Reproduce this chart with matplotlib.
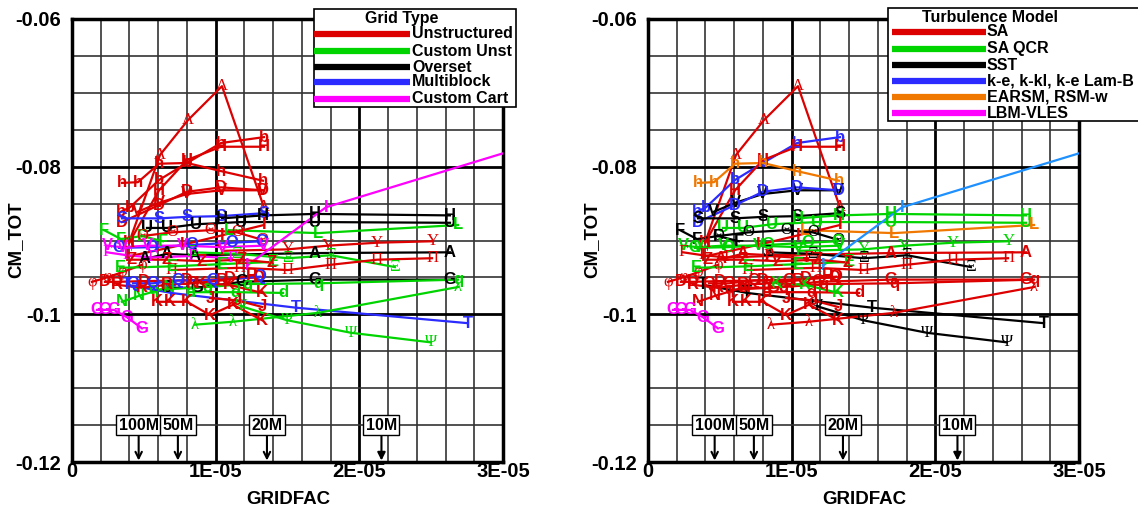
import matplotlib.pyplot as plt
from matplotlib.lines import Line2D
from matplotlib.patches import Rectangle
from matplotlib.ticker import MultipleLocator

plt.rcParams['font.family'] = ['Liberation Sans', 'DejaVu Sans']

# one entry per submission: symbol, grid type, turbulence model,
# GRIDFAC (in units of 1e-6) and CM_TOT for each grid level
symbols = ['Λ', 'b', 'H', 'h', 'V', 'D', 'S', 'U', 'H', 'L',
           'F', 'Υ', 'A', 'Ξ', 'Π', 'G', 'q', 'd', 'T', 'Ψ',
           'λ', 'K', 'N', 'G', 'D', 'φ', 'Q', 'I', 'I', 'Θ',
           'O', 'V', 'Γ', 'E', 'K', 'J', 'R', 'Z']

grid_type = ['Unstructured', 'Unstructured', 'Unstructured', 'Unstructured', 'Unstructured',
             'Unstructured', 'Multiblock', 'Overset', 'Overset', 'Custom Unst',
             'Custom Unst', 'Unstructured', 'Overset', 'Custom Unst', 'Unstructured',
             'Overset', 'Custom Unst', 'Custom Unst', 'Multiblock', 'Custom Unst',
             'Custom Unst', 'Unstructured', 'Custom Unst', 'Custom Cart', 'Unstructured',
             'Unstructured', 'Multiblock', 'Custom Cart', 'Unstructured', 'Unstructured',
             'Multiblock', 'Custom Cart', 'Custom Cart', 'Custom Unst', 'Unstructured',
             'Unstructured', 'Unstructured', 'Unstructured']

turb_model = ['SA', 'k-e', 'SA', 'EARSM', 'SST', 'k-e', 'SST', 'SA QCR', 'SA QCR', 'EARSM',
              'SST', 'SA QCR', 'SA', 'SST', 'SA', 'SA', 'SA', 'SA', 'SST', 'SST',
              'SA', 'SA', 'SA', 'LBM-VLES', 'SA', 'SA', 'SA', 'LES', 'SA', 'SST',
              'SA QCR', 'SA QCR', 'SA', 'SA QCR', 'SA QCR', 'SA', 'SA', 'SA']

gridfac = [
    [3.97, 6.13, 8.07, 10.44, 13.36],
    [3.41, 4.04, 6.06, 8.00, 10.37, 13.36],
    [3.97, 6.06, 8.00, 10.37, 13.36],
    [3.48, 4.59, 6.06, 8.00, 10.37, 13.29],
    [4.59, 6.06, 8.00, 10.37, 13.29],
    [3.48, 6.06, 8.00, 10.37, 13.29],
    [3.48, 6.06, 8.00, 10.37, 13.36],
    [5.22, 6.61, 8.63, 11.76, 16.91, 26.31],
    [10.44, 13.29, 16.91, 26.31],
    [10.93, 17.12, 26.87],
    [2.23, 3.41, 4.87, 6.33],
    [10.44, 15.03, 17.82, 21.23, 25.13],
    [5.08, 6.61, 8.56, 16.91, 26.31],
    [8.35, 11.48, 15.03, 18.03, 22.48],
    [6.96, 11.69, 15.03, 17.96, 21.23, 25.06],
    [6.61, 8.70, 11.83, 16.91, 26.31],
    [5.64, 9.40, 12.18, 17.12, 26.87],
    [8.21, 11.35, 14.69],
    [3.83, 6.89, 15.59, 27.56],
    [11.76, 14.97, 19.42, 24.99],
    [8.56, 11.21, 17.12, 26.87],
    [5.92, 6.82, 8.00, 9.61, 11.21, 13.23],
    [3.48, 4.66, 6.75],
    [1.74, 2.30, 2.92, 3.83, 4.87],
    [2.30, 3.13, 5.00, 8.00, 11.00, 13.00],
    [1.39, 2.44, 3.48, 4.87],
    [4.25, 5.64, 7.38, 9.81, 13.09],
    [12.18, 17.68, 31.00],
    [3.83, 7.66, 10.44, 13.36],
    [4.87, 6.96, 9.61, 11.48, 13.23],
    [3.27, 5.57, 8.35, 11.14, 13.23],
    [2.44, 3.48, 5.22, 7.66, 10.44, 13.36],
    [2.44, 3.83, 5.57, 8.35, 11.14],
    [3.34, 6.96, 10.44, 13.99],
    [8.98, 10.93, 13.23],
    [9.61, 11.48, 13.23],
    [3.13, 4.87, 6.61, 8.35, 10.44, 12.53],
    [4.18, 6.61, 9.05, 11.83, 13.92],
]

cm_tot = [
    [-0.0903, -0.0784, -0.0737, -0.0691, -0.0855],
    [-0.0861, -0.0855, -0.0818, -0.0795, -0.0768, -0.0760],
    [-0.0903, -0.0832, -0.0791, -0.0773, -0.0773],
    [-0.0822, -0.0821, -0.0796, -0.0795, -0.0806, -0.0819],
    [-0.0861, -0.0849, -0.0837, -0.0832, -0.0832],
    [-0.0875, -0.0852, -0.0834, -0.0828, -0.0832],
    [-0.0870, -0.0870, -0.0868, -0.0867, -0.0863],
    [-0.0883, -0.0883, -0.0878, -0.0875, -0.0875, -0.0876],
    [-0.0870, -0.0866, -0.0864, -0.0866],
    [-0.0886, -0.0890, -0.0879],
    [-0.0886, -0.0898, -0.0894, -0.0901],
    [-0.0914, -0.0912, -0.0907, -0.0903, -0.0901],
    [-0.0925, -0.0918, -0.0920, -0.0917, -0.0916],
    [-0.0916, -0.0918, -0.0924, -0.0920, -0.0936],
    [-0.0940, -0.0937, -0.0940, -0.0933, -0.0926, -0.0924],
    [-0.0964, -0.0964, -0.0956, -0.0953, -0.0953],
    [-0.0967, -0.0963, -0.0959, -0.0958, -0.0953],
    [-0.0970, -0.0970, -0.0971],
    [-0.0960, -0.0971, -0.0991, -0.1012],
    [-0.0989, -0.1008, -0.1025, -0.1038],
    [-0.1014, -0.1010, -0.0998, -0.0963],
    [-0.0983, -0.0983, -0.0983, -0.1001, -0.0987, -0.1008],
    [-0.0983, -0.0975, -0.0963],
    [-0.0994, -0.0994, -0.0994, -0.1004, -0.1019],
    [-0.0956, -0.0956, -0.0955, -0.0954, -0.0952, -0.0950],
    [-0.0956, -0.0950, -0.0943, -0.0933],
    [-0.0958, -0.0958, -0.0954, -0.0954, -0.0949],
    [-0.0934, -0.0855, -0.0776],
    [-0.0922, -0.0906, -0.0893, -0.0879],
    [-0.0894, -0.0889, -0.0886, -0.0889, -0.0899],
    [-0.0910, -0.0909, -0.0906, -0.0903, -0.0901],
    [-0.0907, -0.0909, -0.0907, -0.0907, -0.0909, -0.0907],
    [-0.0916, -0.0920, -0.0923, -0.0921, -0.0924],
    [-0.0937, -0.0935, -0.0932, -0.0929],
    [-0.0958, -0.0960, -0.0971],
    [-0.0978, -0.0981, -0.0990],
    [-0.0960, -0.0964, -0.0960, -0.0958, -0.0954, -0.0947],
    [-0.0926, -0.0926, -0.0928, -0.0926, -0.0930],
]

# nominal grid sizes marked along the bottom
mesh_labels = ['100M', '50M', '20M', '10M']
mesh_gridfac = [4.64e-6, 7.37e-6, 1.357e-5, 2.154e-5]

grid_names = ['Unstructured', 'Custom Unst', 'Overset', 'Multiblock', 'Custom Cart']
grid_colors = {'Unstructured': '#dd0000', 'Custom Unst': '#00d400', 'Overset': 'black',
               'Multiblock': '#2b2bff', 'Custom Cart': '#ff00ff'}

turb_names = ['SA', 'SA QCR', 'SST', 'k-e, k-kl, k-e Lam-B', 'EARSM, RSM-w', 'LBM-VLES']
turb_keys = ['SA', 'SA QCR', 'SST', 'k-e', 'EARSM', 'LBM-VLES']
turb_colors = {'SA': '#dd0000', 'SA QCR': '#00d400', 'SST': 'black', 'k-e': '#2b2bff',
               'EARSM': '#f07800', 'LBM-VLES': '#ff00ff', 'LES': '#1e90ff'}

GREEK = set('ΛΥΞΠΨλφΘΓ')
W, H = 1138, 517

fig = plt.figure(figsize=(W / 100, H / 100), dpi=100)


def fx(px):
    return px / W


def fy(py):
    return 1 - py / H


def draw_panel(ax, groups, colors):
    for s, g, xs, ys in zip(symbols, groups, gridfac, cm_tot):
        c = colors[g]
        x = [v * 1e-6 for v in xs]
        ax.plot(x, ys, color=c, lw=1.6, zorder=3)
        greek = s in GREEK
        for xi, yi in zip(x, ys):
            ax.text(xi, yi, s, color=c, ha='center', va='center', fontsize=12,
                    fontweight='normal' if greek else 'bold',
                    family=['Liberation Serif'] if greek else ['Liberation Sans'],
                    zorder=4, clip_on=True)

    ax.set_xlim(0, 3e-5)
    ax.set_ylim(-0.12, -0.06)
    ax.set_xticks([0, 1e-5, 2e-5, 3e-5], ['0', '1E-05', '2E-05', '3E-05'])
    ax.set_yticks([-0.12, -0.1, -0.08, -0.06], ['-0.12', '-0.1', '-0.08', '-0.06'])
    ax.xaxis.set_minor_locator(MultipleLocator(2e-6))
    ax.yaxis.set_minor_locator(MultipleLocator(0.005))
    ax.grid(which='major', color='black', lw=2.0)
    ax.grid(which='minor', color='#333333', lw=1.2)
    ax.set_axisbelow(True)
    ax.tick_params(which='both', direction='in', length=0)
    ax.tick_params(axis='x', pad=0)
    ax.tick_params(axis='y', pad=8)
    for lab in ax.get_xticklabels() + ax.get_yticklabels():
        lab.set_fontsize(14.5)
        lab.set_fontweight('bold')
    for sp in ax.spines.values():
        sp.set_linewidth(2.5)

    for lab, gx in zip(mesh_labels, mesh_gridfac):
        ax.annotate(lab, xy=(gx, -0.1198), xytext=(gx, -0.1150),
                    ha='center', va='center', fontsize=11.5, fontweight='bold',
                    bbox=dict(boxstyle='square,pad=0.15', fc='white', ec='black', lw=1),
                    arrowprops=dict(arrowstyle='-|>' if lab == '10M' else '->',
                                    lw=1.5, color='black', shrinkA=0, shrinkB=0),
                    zorder=6)


def draw_key(title, names, colors, box, title_x, title_y, line_x, text_x, rows):
    x0, y0, x1, y1 = box
    fig.add_artist(Rectangle((fx(x0), fy(y1)), fx(x1) - fx(x0), fy(y0) - fy(y1),
                             transform=fig.transFigure, fc='white', ec='black',
                             lw=1.2, zorder=5))
    fig.text(fx(title_x), fy(title_y), title, ha='center', va='center',
             fontsize=11.5, fontweight='bold', zorder=6)
    for name, c, ry in zip(names, colors, rows):
        fig.add_artist(Line2D([fx(line_x[0]), fx(line_x[1])], [fy(ry), fy(ry)],
                              transform=fig.transFigure, color=c, lw=4.5,
                              solid_capstyle='butt', zorder=6))
        fig.text(fx(text_x), fy(ry), name, ha='left', va='center',
                 fontsize=11.5, fontweight='bold', zorder=6)


ax1 = fig.add_axes([fx(72), 1 - 462 / H, 431 / W, 443 / H])
ax2 = fig.add_axes([fx(648), 1 - 462 / H, 431 / W, 443 / H])

draw_panel(ax1, grid_type, grid_colors)
draw_panel(ax2, turb_model, turb_colors)

draw_key('Grid Type', grid_names, [grid_colors[g] for g in grid_names],
         (314, 9, 516, 107), 402, 19, (314, 410), 412, [34, 51, 67, 82, 99])
draw_key('Turbulence Model', turb_names, [turb_colors[t] for t in turb_keys],
         (888, 8, 1150, 121), 990, 17, (892, 986), 987, [32, 49, 65, 81, 97, 113])

for cx in (288, 864):
    fig.text(fx(cx), fy(500), 'GRIDFAC', ha='center', va='center',
             fontsize=13.5, fontweight='bold')
for cx in (16, 592):
    fig.text(fx(cx), fy(240), 'CM_TOT', ha='center', va='center', rotation=90,
             fontsize=13.5, fontweight='bold')

fig.savefig('out.png', dpi=100)
